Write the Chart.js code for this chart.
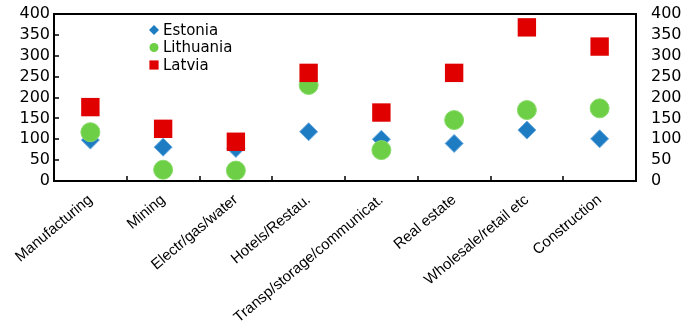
<!DOCTYPE html>
<html>
<head>
<meta charset="utf-8">
<script src="https://cdn.jsdelivr.net/npm/chart.js@4.4.0/dist/chart.umd.min.js"></script>
<style>
  html, body { margin: 0; padding: 0; background: #fff; }
  #wrap { width: 691px; height: 334px; }
</style>
</head>
<body>
<div id="wrap"><canvas id="sectors"></canvas></div>
<script>
const sectors = ['Manufacturing', 'Mining', 'Electr/gas/water', 'Hotels/Restau.', 'Transp/storage/communicat.', 'Real estate', 'Wholesale/retail etc', 'Construction'];
const estonia = [98, 81, 78, 118, 100, 90, 122, 101];
const lithuania = [117, 27, 25, 230, 74, 146, 170, 174];
const latvia = [177, 125, 94, 259, 164, 259, 368, 322];
const yMin = 0, yMax = 400, yStep = 50;

const FONT = "'Liberation Sans', Arial, sans-serif";
const WIDE = "'DejaVu Sans', sans-serif";

// frame round the plot, inward tick marks and the in-plot legend
const framePlugin = {
  id: 'frame',
  afterDraw(chart) {
    const ctx = chart.ctx;
    const a = chart.chartArea;
    const x = chart.scales.x, y = chart.scales.y;
    ctx.save();
    ctx.strokeStyle = '#000';
    ctx.lineWidth = 2;
    ctx.strokeRect(a.left, a.top, a.right - a.left, a.bottom - a.top);
    ctx.lineWidth = 1.5;
    ctx.beginPath();
    for (let i = 1; i < sectors.length; i++) {
      const px = Math.round(x.getPixelForValue(i - 0.5));
      ctx.moveTo(px, a.bottom);
      ctx.lineTo(px, a.bottom - 5);
    }
    for (let v = yMin + yStep; v < yMax; v += yStep) {
      const py = Math.round(y.getPixelForValue(v));
      ctx.moveTo(a.left, py);
      ctx.lineTo(a.left + 5, py);
    }
    ctx.stroke();

    // legend
    ctx.font = '15px ' + WIDE;
    ctx.textBaseline = 'middle';
    ctx.fillStyle = '#000';
    chart.data.datasets.forEach((ds, i) => {
      const lx = a.left + 100, ly = a.top + 16 + i * 17.5;
      ctx.save();
      ctx.fillStyle = ds.backgroundColor;
      ctx.strokeStyle = ds.backgroundColor;
      ctx.lineWidth = 0;
      Chart.helpers.drawPoint(ctx, { pointStyle: ds.pointStyle, radius: ds.legendRadius, borderWidth: 0 }, lx, ly);
      ctx.restore();
      ctx.fillText(ds.label, lx + 9, ly + 1);
    });
    ctx.restore();
  }
};

const yFit = (w) => (scale) => {
  scale.width = w;
  scale.paddingTop = 0;
  scale.paddingBottom = 0;
};

new Chart(document.getElementById('sectors'), {
  type: 'line',
  data: {
    labels: sectors,
    datasets: [
      {
        label: 'Estonia', data: estonia, showLine: false,
        pointStyle: 'rectRot', pointRadius: 9, legendRadius: 5,
        backgroundColor: '#1E7CC2', borderColor: '#6AAAE0', borderWidth: 1, order: 3
      },
      {
        label: 'Lithuania', data: lithuania, showLine: false,
        pointStyle: 'circle', pointRadius: 9.5, legendRadius: 4.5,
        backgroundColor: '#6CCF45', borderColor: '#8ADB6A', borderWidth: 1, order: 2
      },
      {
        label: 'Latvia', data: latvia, showLine: false,
        pointStyle: 'rect', pointRadius: 13, legendRadius: 6.5,
        backgroundColor: '#E00000', borderColor: '#E00000', borderWidth: 0, order: 1
      }
    ]
  },
  options: {
    responsive: true,
    maintainAspectRatio: false,
    animation: false,
    layout: { padding: { top: 14, left: 0, right: 0, bottom: 0 } },
    plugins: { legend: { display: false }, tooltip: { enabled: false } },
    scales: {
      x: {
        offset: true,
        grid: { display: false, offset: true },
        border: { display: false },
        ticks: {
          color: '#000', font: { family: FONT, size: 15 },
          minRotation: 40, maxRotation: 40, autoSkip: false, padding: 2
        },
        afterFit(scale) { scale.height = 153; scale.paddingLeft = 0; scale.paddingRight = 0; }
      },
      y: {
        position: 'left', min: yMin, max: yMax,
        grid: { display: false, drawTicks: false },
        border: { display: false },
        ticks: { stepSize: yStep, autoSkip: false, color: '#000', font: { family: WIDE, size: 16 }, padding: 4 },
        afterFit: yFit(54)
      },
      y1: {
        position: 'right', min: yMin, max: yMax,
        grid: { display: false, drawTicks: false },
        border: { display: false },
        ticks: { stepSize: yStep, autoSkip: false, color: '#000', font: { family: WIDE, size: 16 }, padding: 15 },
        afterFit: yFit(55)
      }
    }
  },
  plugins: [framePlugin]
});
</script>
</body>
</html>
